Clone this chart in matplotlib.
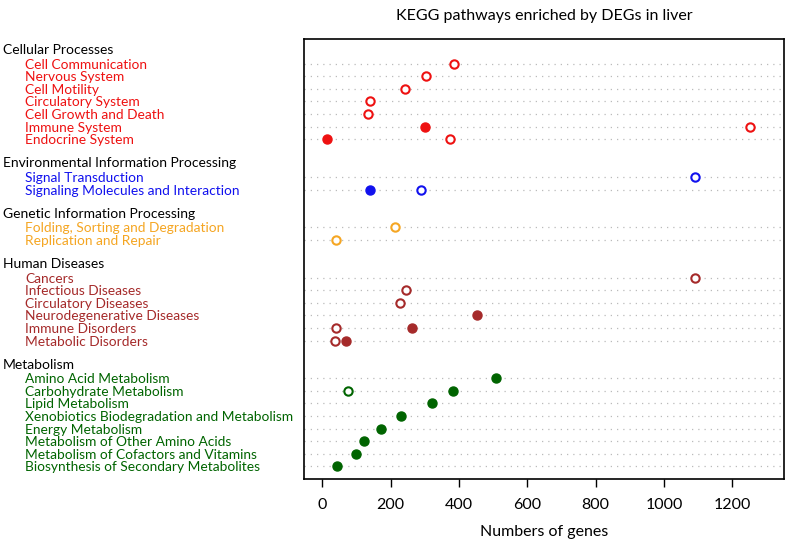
import numpy as np
import matplotlib.pyplot as plt

plt.rcParams['font.family'] = ['Lato', 'DejaVu Sans']

# группы путей KEGG и их цвета
groups = ['Cellular Processes', 'Environmental Information Processing',
          'Genetic Information Processing', 'Human Diseases', 'Metabolism']
group_colors = ['#EE1111', '#1111EE', '#F5A623', '#A52A2A', '#006400']

cellular = ['Cell Communication', 'Nervous System', 'Cell Motility',
            'Circulatory System', 'Cell Growth and Death', 'Immune System',
            'Endocrine System']
environmental = ['Signal Transduction', 'Signaling Molecules and Interaction']
genetic = ['Folding, Sorting and Degradation', 'Replication and Repair']
diseases = ['Cancers', 'Infectious Diseases', 'Circulatory Diseases',
            'Neurodegenerative Diseases', 'Immune Disorders', 'Metabolic Disorders']
metabolism = ['Amino Acid Metabolism', 'Carbohydrate Metabolism', 'Lipid Metabolism',
              'Xenobiotics Biodegradation and Metabolism', 'Energy Metabolism',
              'Metabolism of Other Amino Acids', 'Metabolism of Cofactors and Vitamins',
              'Biosynthesis of Secondary Metabolites']

# открытые кружки (все гены пути) и закрашенные (DEG)
open_cellular = [387, 303, 241, 141, 134, 1252, 375]
filled_cellular = [np.nan, np.nan, np.nan, np.nan, np.nan, 301, 14]
open_environmental = [1091, 289]
filled_environmental = [np.nan, 139]
open_genetic = [213, 40]
filled_genetic = [np.nan, np.nan]
open_diseases = [1091, 245, 229, np.nan, 42, 39]
filled_diseases = [np.nan, np.nan, np.nan, 453, 264, 71]
open_metabolism = [np.nan, 77, np.nan, np.nan, np.nan, np.nan, np.nan, np.nan]
filled_metabolism = [510, 384, 321, 231, 171, 122, 98, 43]

labels = [cellular, environmental, genetic, diseases, metabolism]
opens = [open_cellular, open_environmental, open_genetic, open_diseases, open_metabolism]
filleds = [filled_cellular, filled_environmental, filled_genetic, filled_diseases,
           filled_metabolism]

fig = plt.figure(figsize=(7.88, 5.44), dpi=100)
ax = fig.add_axes([0.3858, 0.1195, 0.6091, 0.8097])

# позиции строк как в R dotchart: снизу вверх, с пропуском 2 строк между группами
n_total = sum(len(l) for l in labels) + 2 * (len(labels) - 1)
y = n_total
trans = ax.get_yaxis_transform()
for gi, (grp, col) in enumerate(zip(groups, group_colors)):
    header_y = y + 1.15
    ax.text(-0.627, header_y, grp, transform=trans, fontsize=10,
            color='black', ha='left', va='center_baseline', clip_on=False)
    for name, o, f in zip(labels[gi], opens[gi], filleds[gi]):
        ax.axhline(y, color='#BBBBBB', linestyle=(0, (1, 4)), linewidth=0.9, zorder=1)
        ax.text(-0.581, y, name, transform=trans, fontsize=9.9,
                color=col, ha='left', va='center_baseline', clip_on=False)
        if not np.isnan(o):
            ax.plot(o, y, 'o', ms=6, mfc='white', mec=col, mew=1.5, zorder=3)
        if not np.isnan(f):
            ax.plot(f, y, 'o', ms=6.5, mfc=col, mec=col, mew=1, zorder=3)
        y -= 1
    y -= 2

ax.set_xlim(-53, 1351)
ax.set_ylim(0, 35)
ax.set_xticks([0, 200, 400, 600, 800, 1000, 1200])
ax.set_yticks([])
ax.tick_params(axis='x', direction='out', length=6, width=1, labelsize=11.5, pad=8)
for s in ax.spines.values():
    s.set_linewidth(1.2)

ax.set_xlabel('Numbers of genes', fontsize=11.5, labelpad=9)
ax.set_title('KEGG pathways enriched by DEGs in liver', fontsize=11.5, pad=13)

plt.savefig('out.png', dpi=100)
